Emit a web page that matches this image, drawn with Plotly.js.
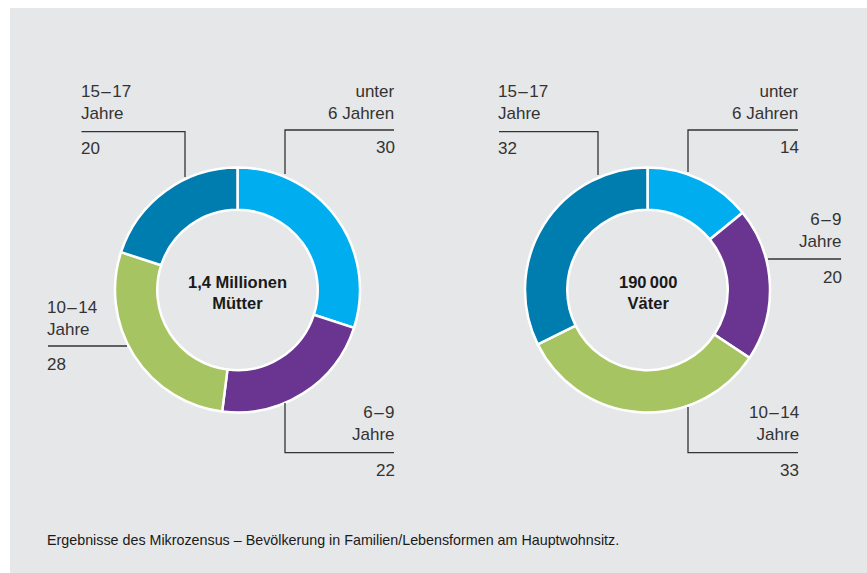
<!DOCTYPE html>
<html>
<head>
<meta charset="utf-8">
<script src="https://cdn.plot.ly/plotly-3.0.1.min.js"></script>
<style>html,body{margin:0;padding:0;background:#fff;}#chart{width:867px;height:573px;}</style>
</head>
<body>
<div id="chart"></div>
<script>
// ---- data ----
const categories = ["unter<br>6 Jahren", "6\u200a–\u200a9<br>Jahre", "10\u200a–\u200a14<br>Jahre", "15\u200a–\u200a17<br>Jahre"];
const muetterValues = [30, 22, 28, 20];
const vaeterValues = [14, 20, 33, 32];
const colors = ["#00aeef", "#693590", "#a7c462", "#007daf"];
const muetterCenter = "1,4 Millionen<br>Mütter";
const vaeterCenter = "190\u2009000<br>Väter";
const footnote = "Ergebnisse des Mikrozensus – Bevölkerung in Familien/Lebensformen am Hauptwohnsitz.";

// ---- layout helpers (pixel -> paper) ----
const W = 867, H = 573;
const px = x => x / W;
const py = y => 1 - y / H;

const textColor = "#333333";
const lineColor = "#333333";
const font = "Liberation Sans, Arial, sans-serif";
const PAD = 3; // annotation inner padding compensation

// donut geometry (pixels)
const donuts = [
  {cx: 237.5, cy: 290, r: 122.5, values: muetterValues, center: muetterCenter},
  {cx: 647.5, cy: 290, r: 122.5, values: vaeterValues, center: vaeterCenter}
];

// label placements per donut, per category (pixels)
const placements = [
  [
    {x: 394, align: "right", t: 102.5, n: 147, line: [[285, 174], [285, 130], [394, 130]]},
    {x: 394, align: "right", t: 423.5, n: 470, line: [[285, 403], [285, 452.7], [394, 452.7]]},
    {x: 48, align: "left", t: 318, n: 364, line: [[48, 346], [127, 346]]},
    {x: 81.5, align: "left", t: 102.5, n: 149, line: [[81.5, 131.7], [185, 131.7], [185, 177]]}
  ],
  [
    {x: 798, align: "right", t: 102.5, n: 147, line: [[688, 172], [688, 130], [798, 130]]},
    {x: 841, align: "right", t: 231, n: 277, line: [[768, 259], [841, 259]]},
    {x: 798, align: "right", t: 423.5, n: 470, line: [[688, 407], [688, 452.7], [798, 452.7]]},
    {x: 499, align: "left", t: 102.5, n: 149, line: [[499, 131.7], [598, 131.7], [598, 175]]}
  ]
];

const data = donuts.map(d => ({
  type: "pie",
  values: d.values,
  labels: categories,
  sort: false,
  direction: "clockwise",
  rotation: 0,
  hole: 0.655,
  textinfo: "none",
  hoverinfo: "none",
  showlegend: false,
  marker: {colors: colors, line: {color: "#ffffff", width: 2.5}},
  domain: {x: [px(d.cx - d.r), px(d.cx + d.r)], y: [py(d.cy + d.r), py(d.cy - d.r)]}
}));

const shapes = [{
  type: "rect", xref: "paper", yref: "paper", layer: "below",
  x0: px(10), x1: 1, y0: 0, y1: py(8),
  fillcolor: "#e6e7e8", line: {width: 0}
}];
const annotations = [];

donuts.forEach((d, di) => {
  annotations.push({
    xref: "paper", yref: "paper", x: px(d.cx), y: py(292), xanchor: "center", yanchor: "middle",
    text: "<b>" + d.center + "</b>", showarrow: false, align: "center",
    font: {family: font, size: 16.5, color: "#1a1a1a"}
  });
  placements[di].forEach((p, ci) => {
    const ax = p.align === "right" ? p.x + PAD : p.x - PAD;
    annotations.push({
      xref: "paper", yref: "paper", x: px(ax), y: py(p.t), xanchor: p.align, yanchor: "middle",
      text: categories[ci], showarrow: false, align: p.align,
      font: {family: font, size: 17, color: textColor}
    });
    annotations.push({
      xref: "paper", yref: "paper", x: px(ax), y: py(p.n), xanchor: p.align, yanchor: "middle",
      text: String(d.values[ci]), showarrow: false, align: p.align,
      font: {family: font, size: 17, color: textColor}
    });
    const path = p.line.map((pt, i) => (i ? "L" : "M") + px(pt[0]) + "," + py(pt[1])).join(" ");
    shapes.push({type: "path", xref: "paper", yref: "paper", path: path, line: {color: lineColor, width: 1.3}});
  });
});

annotations.push({
  xref: "paper", yref: "paper", x: px(48 - PAD), y: py(540), xanchor: "left", yanchor: "middle",
  text: footnote, showarrow: false, font: {family: font, size: 14.3, color: "#1a1a1a"}
});

const layout = {
  width: W, height: H,
  margin: {l: 0, r: 0, t: 0, b: 0},
  paper_bgcolor: "#ffffff",
  plot_bgcolor: "rgba(0,0,0,0)",
  shapes: shapes,
  annotations: annotations
};

Plotly.newPlot("chart", data, layout, {staticPlot: true, displayModeBar: false});
</script>
</body>
</html>
